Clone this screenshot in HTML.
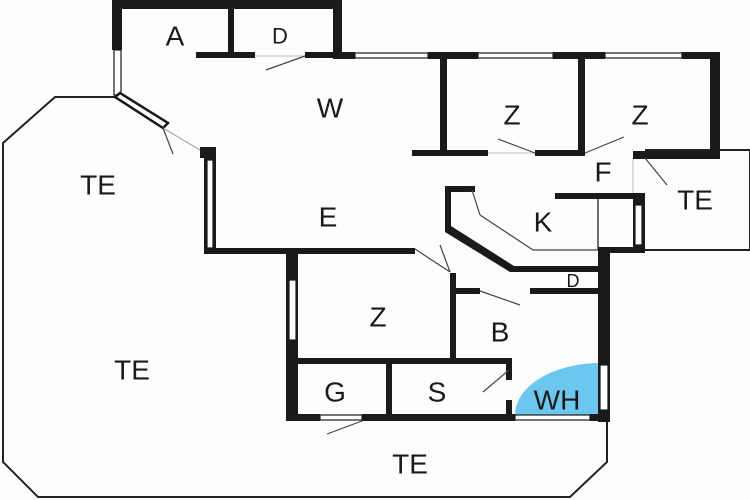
<!DOCTYPE html>
<html><head><meta charset="utf-8"><style>
html,body{margin:0;padding:0;background:#fdfdfc;}
svg{display:block;}
text{font-family:"Liberation Sans",sans-serif;fill:#1a1a1a;text-anchor:middle;dominant-baseline:central;}
</style></head><body>
<svg width="750" height="500" viewBox="0 0 750 500" xmlns="http://www.w3.org/2000/svg">
<rect width="750" height="500" fill="#fdfdfc"/>
<!-- terrace outline -->
<polyline points="115,97 55,97 3,143 3,462 38,497 570,497 607,462 607,420" fill="none" stroke="#222" stroke-width="2"/>
<polyline points="645,150 750,150 750,250 645,250" fill="none" stroke="#222" stroke-width="2"/>
<line x1="598" y1="195" x2="598" y2="250" stroke="#444" stroke-width="1.5"/>
<line x1="633" y1="158" x2="633" y2="195" stroke="#bbb" stroke-width="1"/>
<!-- WH blue -->
<path d="M600,415 L515,415 A85,52 0 0 1 600,363 Z" fill="#6cc7ee"/>
<g fill="#1a1a1a">
<!-- A/D block -->
<rect x="112" y="0" width="230" height="9"/>
<rect x="112" y="0" width="10" height="50"/>
<rect x="333" y="0" width="9" height="58"/>
<rect x="228" y="8" width="6" height="48"/>
<rect x="196" y="52" width="59" height="6"/>
<rect x="305" y="52" width="37" height="6"/>
<!-- top wall -->
<rect x="333" y="52" width="22" height="7"/>
<rect x="428" y="52" width="50" height="7"/>
<rect x="553" y="52" width="52" height="7"/>
<rect x="682" y="52" width="38" height="7"/>
<rect x="710" y="52" width="10" height="106"/>
<rect x="440" y="55" width="7" height="98"/>
<rect x="578" y="55" width="7" height="98"/>
<rect x="412" y="150" width="76" height="6"/>
<rect x="535" y="150" width="50" height="6"/>
<rect x="633" y="151" width="87" height="8"/>
<!-- left walls -->
<rect x="200" y="147" width="16" height="11"/>
<rect x="204" y="150" width="12" height="104"/>
<rect x="204" y="248" width="211" height="6"/>
<!-- kitchen -->
<rect x="445" y="186" width="30" height="6"/>
<rect x="445" y="186" width="6" height="44"/>
<polygon points="445,226 451,226 514,266 514,272 510,272 445,232"/>
<rect x="510" y="266" width="90" height="6"/>
<rect x="555" y="193" width="90" height="6"/>
<rect x="633" y="193" width="12" height="59"/>
<rect x="598" y="247" width="47" height="6"/>
<rect x="598" y="247" width="12" height="175"/>
<!-- D small -->
<rect x="455" y="288" width="25" height="6"/>
<rect x="530" y="288" width="70" height="6"/>
<!-- lower rooms -->
<rect x="286" y="253" width="12" height="168"/>
<rect x="450" y="273" width="6" height="88"/>
<rect x="286" y="358" width="226" height="6"/>
<rect x="386" y="360" width="6" height="60"/>
<rect x="506" y="360" width="6" height="20"/>
<rect x="506" y="400" width="6" height="20"/>
<rect x="286" y="414" width="34" height="7"/>
<rect x="362" y="414" width="153" height="7"/>
<rect x="590" y="414" width="20" height="7"/>
</g>
<!-- windows (white with outline) -->
<g fill="#fff" stroke="#1a1a1a" stroke-width="1.2">
<rect x="114" y="50" width="7" height="45"/>
<rect x="355" y="53" width="73" height="5"/>
<rect x="478" y="53" width="75" height="5"/>
<rect x="605" y="53" width="77" height="5"/>
<rect x="207" y="160" width="6" height="88"/>
<rect x="635" y="205" width="7" height="40"/>
<rect x="289" y="280" width="7" height="60"/>
<rect x="600" y="365" width="8" height="45"/>
<rect x="320" y="415" width="42" height="5"/>
<rect x="515" y="415" width="75" height="5"/>
</g>
<polygon points="115,97 120,93 168,123 163,128" fill="#fff" stroke="#1a1a1a" stroke-width="2.5"/>
<!-- door swings -->
<g stroke="#444" stroke-width="1.2" fill="none">
<line x1="255" y1="56" x2="305" y2="56" stroke="#ccc"/>
<line x1="305" y1="56" x2="266" y2="70"/>
<line x1="163" y1="128" x2="200" y2="150" stroke="#aaa"/>
<line x1="163" y1="128" x2="173" y2="154"/>
<line x1="488" y1="153" x2="535" y2="153" stroke="#ccc"/>
<line x1="535" y1="153" x2="498" y2="139"/>
<line x1="585" y1="153" x2="624" y2="137"/>
<line x1="645" y1="158" x2="667" y2="185"/>
<line x1="472" y1="190" x2="480" y2="215"/>
<polyline points="480,215 533,250 598,250"/>
<line x1="415" y1="249" x2="450" y2="272"/>
<line x1="440" y1="245" x2="450" y2="272"/>
<line x1="480" y1="291" x2="520" y2="305"/>
<line x1="509" y1="370" x2="483" y2="392"/>
<line x1="362" y1="421" x2="327" y2="434"/>
</g>
<!-- labels -->
<g font-size="28">
<text x="175" y="36">A</text>
<text x="280" y="36" font-size="22">D</text>
<text x="330" y="108">W</text>
<text x="512" y="115">Z</text>
<text x="640" y="115">Z</text>
<text x="603" y="172">F</text>
<text x="695" y="200">TE</text>
<text x="543" y="222">K</text>
<text x="328" y="217">E</text>
<text x="98" y="185">TE</text>
<text x="132" y="370">TE</text>
<text x="378" y="317">Z</text>
<text x="500" y="332">B</text>
<text x="573" y="281" font-size="18">D</text>
<text x="335" y="392">G</text>
<text x="437" y="392">S</text>
<text x="557" y="400">WH</text>
<text x="410" y="464">TE</text>
</g>
</svg>
</body></html>
